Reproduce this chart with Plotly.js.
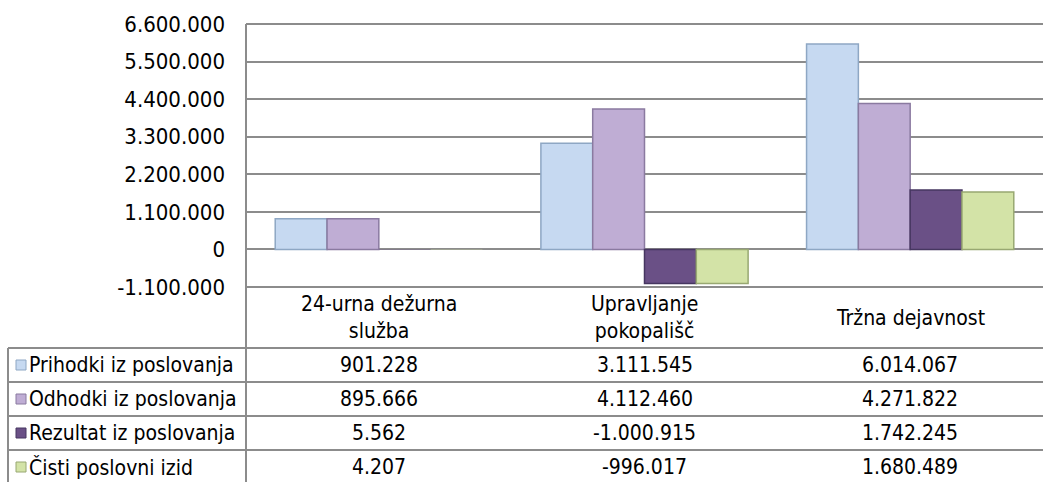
<!DOCTYPE html>
<html>
<head>
<meta charset="utf-8">
<script src="https://cdn.plot.ly/plotly-3.0.1.min.js"></script>
<style>
  html, body { margin: 0; padding: 0; background: #fff; }
  #chart { width: 1043px; height: 482px; }
</style>
</head>
<body>
<div id="chart"></div>
<script>
// data
const categories = ['24-urna dežurna služba', 'Upravljanje pokopališč', 'Tržna dejavnost'];
const headerLabels = ['24-urna dežurna<br>služba', 'Upravljanje<br>pokopališč', 'Tržna dejavnost'];
const seriesNames = ['Prihodki iz poslovanja', 'Odhodki iz poslovanja', 'Rezultat iz poslovanja', 'Čisti poslovni izid'];
const prihodki = [901228, 3111545, 6014067];
const odhodki = [895666, 4112460, 4271822];
const rezultat = [5562, -1000915, 1742245];
const cistiIzid = [4207, -996017, 1680489];
const yTicks = [-1100000, 0, 1100000, 2200000, 3300000, 4400000, 5500000, 6600000];

// styles
const FONT = '"DejaVu Sans Condensed", "DejaVu Sans", sans-serif';
const fills = ['#C6D9F1', '#BFADD4', '#6A5086', '#D3E3A7'];
const edges = ['#8EA7C4', '#8A7AA0', '#463660', '#98A872'];
const LINE = '#8C8C8C';

// pixel layout of the plot area (margins)
const W = 1043, H = 482;
const L = 246, T = 24, B = 287;
const plotW = W - L, plotH = B - T;
const px = v => (v - L) / plotW;
const py = v => (B - v) / plotH;

const headerTop = 287, headerBot = 348, rowH = 34, tableLeft = 8;

function fmt(n) {
  const s = Math.abs(n).toString().replace(/\B(?=(\d{3})+(?!\d))/g, '.');
  return (n < 0 ? '-' : '') + s;
}

const series = [prihodki, odhodki, rezultat, cistiIzid];

const traces = series.map((vals, i) => ({
  type: 'bar',
  name: seriesNames[i],
  x: categories,
  y: vals,
  marker: {
    color: fills[i],
    // near-zero bars: no outline, so they don't show as a stray line on the zero gridline
    line: { color: edges[i], width: vals.map(v => (Math.abs(v) < 50000 ? 0 : 1.5)) },
  },
  hoverinfo: 'x+y+name',
}));

const shapes = [];
const annotations = [];

// frame of the data table
shapes.push({ type: 'line', xref: 'paper', yref: 'paper', x0: 0, x1: 0, y0: 1, y1: py(H + 2), line: { color: LINE, width: 2 } });
shapes.push({ type: 'line', xref: 'paper', yref: 'paper', x0: 0, x1: 1, y0: 1, y1: 1, line: { color: LINE, width: 2 } });
shapes.push({ type: 'line', xref: 'paper', yref: 'paper', x0: 0, x1: 1, y0: 0, y1: 0, line: { color: LINE, width: 2 } });
shapes.push({ type: 'line', xref: 'paper', yref: 'paper', x0: px(tableLeft), x1: px(tableLeft), y0: py(headerBot), y1: py(H + 2), line: { color: LINE, width: 2 } });
for (let r = 0; r < seriesNames.length; r++) {
  const yy = headerBot + r * rowH;
  shapes.push({ type: 'line', xref: 'paper', yref: 'paper', x0: px(tableLeft), x1: 1, y0: py(yy), y1: py(yy), line: { color: LINE, width: 2 } });
}

// column headers
categories.forEach((c, j) => {
  annotations.push({
    xref: 'x', yref: 'paper', x: c, y: py((headerTop + headerBot) / 2),
    text: headerLabels[j], showarrow: false, xanchor: 'center', yanchor: 'middle', align: 'center',
    font: { family: FONT, size: 21, color: '#000' },
  });
});

// rows: legend key, name, values
seriesNames.forEach((name, i) => {
  const cy = headerBot + i * rowH + rowH / 2;
  shapes.push({
    type: 'rect', xref: 'paper', yref: 'paper',
    x0: px(16), x1: px(26), y0: py(cy - 5), y1: py(cy + 5),
    fillcolor: fills[i], line: { color: edges[i], width: 1 },
  });
  annotations.push({
    xref: 'paper', yref: 'paper', x: px(27), y: py(cy),
    text: name, showarrow: false, xanchor: 'left', yanchor: 'middle',
    font: { family: FONT, size: 21, color: '#000' },
  });
  categories.forEach((c, j) => {
    annotations.push({
      xref: 'x', yref: 'paper', x: c, y: py(cy),
      text: fmt(series[i][j]), showarrow: false, xanchor: 'center', yanchor: 'middle',
      font: { family: FONT, size: 21, color: '#000' },
    });
  });
});

const layout = {
  width: W,
  height: H,
  margin: { l: L, r: 0, t: T, b: H - B, pad: 0 },
  paper_bgcolor: '#fff',
  plot_bgcolor: '#fff',
  showlegend: false,
  barmode: 'group',
  bargap: 0.22,
  bargroupgap: 0,
  font: { family: FONT, size: 21, color: '#000' },
  xaxis: {
    type: 'category',
    showticklabels: false,
    showgrid: false,
    zeroline: false,
    showline: false,
    ticks: '',
    fixedrange: true,
  },
  yaxis: {
    range: [-1100000, 6600000],
    tickvals: yTicks,
    ticktext: yTicks.map(fmt),
    showgrid: true,
    gridcolor: LINE,
    gridwidth: 2,
    zeroline: false,
    showline: false,
    ticks: '',
    ticklabelstandoff: 20,
    tickfont: { family: FONT, size: 22, color: '#000' },
    fixedrange: true,
  },
  shapes: shapes,
  annotations: annotations,
};

Plotly.newPlot('chart', traces, layout, { displayModeBar: false, staticPlot: true });
</script>
</body>
</html>
